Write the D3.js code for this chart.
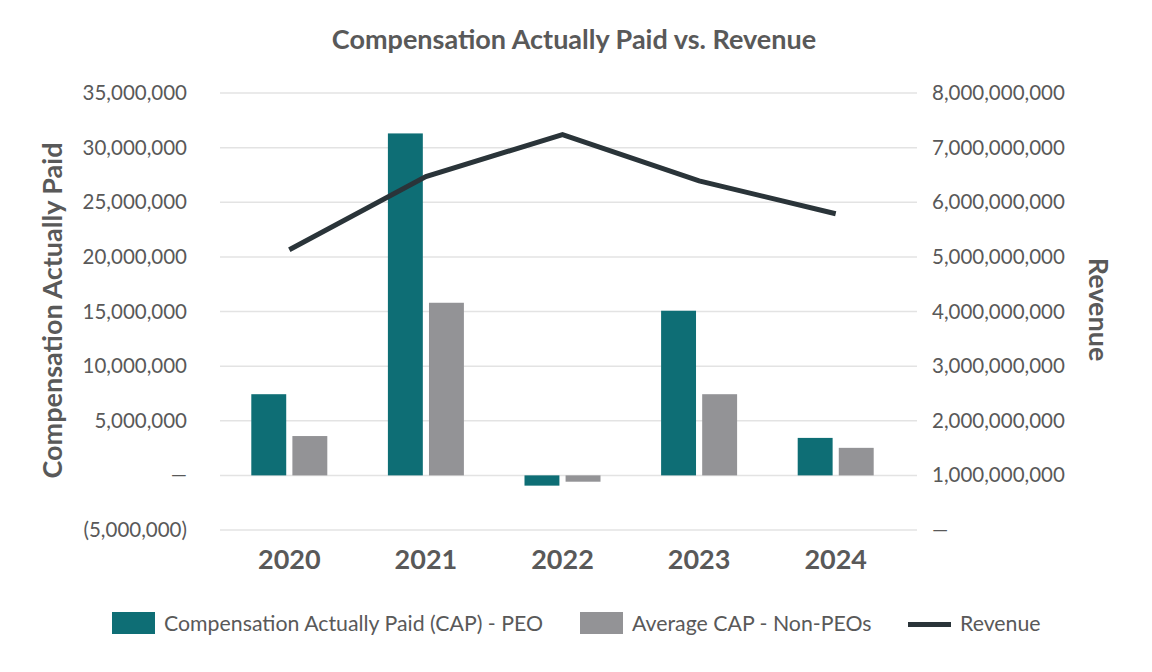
<!DOCTYPE html>
<html>
<head>
<meta charset="utf-8">
<script src="https://cdn.jsdelivr.net/npm/d3@7"></script>
<style>
body { margin: 0; background: #fff; }
text { font-family: Lato, "Open Sans", sans-serif; }
</style>
</head>
<body>
<script>
var years = ["2020", "2021", "2022", "2023", "2024"];
var capPeo = [7.43e6, 31.3e6, -0.94e6, 15.07e6, 3.43e6];
var capNonPeo = [3.6e6, 15.8e6, -0.58e6, 7.43e6, 2.52e6];
var revenue = [5.13e9, 6.47e9, 7.24e9, 6.39e9, 5.79e9];
var leftTicks = [-5e6, 0, 5e6, 10e6, 15e6, 20e6, 25e6, 30e6, 35e6];
var rightTicks = [0, 1e9, 2e9, 3e9, 4e9, 5e9, 6e9, 7e9, 8e9];
var seriesNames = ["Compensation Actually Paid (CAP) - PEO", "Average CAP - Non-PEOs", "Revenue"];

var w = 1152, h = 672;
var colTeal = "#0e6e75", colGray = "#939396", colLine = "#2a3439", colText = "#595959";
var svg = d3.select("body").append("svg").attr("width", w).attr("height", h);

var plotL = 220, plotR = 917, plotT = 93, plotB = 530;

// the category bands stop short of the gridline end
var x0 = d3.scaleBand().domain(years).range([plotL + 1, 904]);
var bw = x0.bandwidth();
var x1 = d3.scaleBand().domain([0, 1]).range([bw / 2 - 38, bw / 2 + 38]).paddingInner(0.15);
var yL = d3.scaleLinear().domain([-5e6, 35e6]).range([plotB, plotT]);
var yR = d3.scaleLinear().domain([0, 8e9]).range([plotB, plotT]);

var fmtL = function (d) {
    if (d === 0) return "\u2014";
    if (d < 0) return "(" + d3.format(",")(-d) + ")";
    return d3.format(",")(d);
};
var fmtR = function (d) { return d === 0 ? "\u2014" : d3.format(",")(d); };

// gridlines
svg.append("g").selectAll("line").data(leftTicks).enter().append("line")
    .attr("x1", plotL).attr("x2", plotR)
    .attr("y1", function (d) { return yL(d); }).attr("y2", function (d) { return yL(d); })
    .attr("stroke", "#e3e3e3").attr("stroke-width", 1.5);

// left axis
var gl = svg.append("g").attr("transform", "translate(" + (plotL - 33) + ",0)")
    .call(d3.axisLeft(yL).tickValues(leftTicks).tickFormat(fmtL).tickSize(0).tickPadding(0));
gl.select(".domain").remove();
gl.selectAll("text").attr("font-size", 20.5).attr("fill", colText).style("font-family", "Lato");

// right axis
var gr = svg.append("g").attr("transform", "translate(" + (plotR + 15) + ",0)")
    .call(d3.axisRight(yR).tickValues(rightTicks).tickFormat(fmtR).tickSize(0).tickPadding(0));
gr.select(".domain").remove();
gr.selectAll("text").attr("font-size", 20.5).attr("fill", colText).style("font-family", "Lato");

// x axis
var gx = svg.append("g").attr("transform", "translate(0," + (plotB + 17) + ")")
    .call(d3.axisBottom(x0).tickSize(0).tickPadding(0));
gx.select(".domain").remove();
gx.selectAll("text").attr("font-size", 27).attr("font-weight", "bold").attr("fill", colText)
    .attr("dy", "0.8em").style("font-family", "Lato");

// bars
var series = [capPeo, capNonPeo];
var colors = [colTeal, colGray];
series.forEach(function (vals, s) {
    svg.append("g").selectAll("rect").data(vals).enter().append("rect")
        .attr("x", function (d, i) { return x0(years[i]) + x1(s); })
        .attr("width", x1.bandwidth())
        .attr("y", function (d) { return yL(Math.max(0, d)); })
        .attr("height", function (d) { return Math.abs(yL(d) - yL(0)); })
        .attr("fill", colors[s]);
});

// revenue line
var line = d3.line()
    .x(function (d, i) { return x0(years[i]) + bw / 2; })
    .y(function (d) { return yR(d); });
svg.append("path").datum(revenue).attr("d", line)
    .attr("fill", "none").attr("stroke", colLine).attr("stroke-width", 5);

// title
svg.append("text").attr("x", 574).attr("y", 49).attr("text-anchor", "middle")
    .attr("font-size", 27).attr("font-weight", "bold").attr("fill", colText)
    .text("Compensation Actually Paid vs. Revenue");

// axis titles
svg.append("text").attr("transform", "translate(62," + ((plotT + plotB) / 2 - 1) + ") rotate(-90)")
    .attr("text-anchor", "middle").attr("font-size", 27).attr("font-weight", "bold").attr("fill", colText)
    .text("Compensation Actually Paid");
svg.append("text").attr("transform", "translate(1089," + ((plotT + plotB) / 2 - 2) + ") rotate(90)")
    .attr("text-anchor", "middle").attr("font-size", 27).attr("font-weight", "bold").attr("fill", colText)
    .text("Revenue");

// legend
var lg = svg.append("g");
var legX = [112, 580, 908];
lg.append("rect").attr("x", legX[0]).attr("y", 612).attr("width", 43).attr("height", 22).attr("fill", colTeal);
lg.append("rect").attr("x", legX[1]).attr("y", 612).attr("width", 43).attr("height", 22).attr("fill", colGray);
lg.append("rect").attr("x", legX[2]).attr("y", 622).attr("width", 43).attr("height", 5).attr("fill", colLine);
[164, 632, 960].forEach(function (tx, i) {
    lg.append("text").attr("x", tx).attr("y", 631).attr("font-size", 21.3).attr("fill", colText)
        .text(seriesNames[i]);
});
</script>
</body>
</html>
